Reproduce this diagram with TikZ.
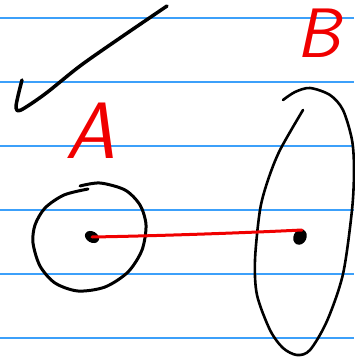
\documentclass[tikz,border=0pt]{standalone}
\usepackage{tikz}
\usetikzlibrary{arrows.meta, positioning, calc, shapes.geometric}
\definecolor{ruleblue}{RGB}{60,160,250}
\definecolor{penred}{RGB}{240,0,0}

\begin{document}
\begin{tikzpicture}[x=1pt, y=-1pt,
    pen/.style={line width=3pt, line cap=round, line join=round},
    dotnode/.style={ellipse, fill=black, inner sep=0pt},
    letter/.style={text=penred, inner sep=0pt,
      font=\fontsize{80}{80}\selectfont\sffamily\slshape}]
  \useasboundingbox[fill=white] (0,0) rectangle (354,362);
  % Ruled lines
  \foreach \y in {18,82,146,210,274,338}
    \draw[ruleblue, line width=1.4pt] (0,\y) -- (354,\y);
  % Check mark
  \draw[pen, line width=3.5pt] plot[smooth] coordinates {(22,80) (18,96) (16,108) (21,110) (45,94) (80,66) (120,38) (167,6)};
  % Labels
  \node[letter] (labelA) at (90,131) {A};
  \node[letter, font=\fontsize{70}{70}\selectfont\sffamily\slshape] (labelB) at (318,33) {B};
  % Circle round A
  \draw[pen] plot[smooth] coordinates {(88,189) (64,195) (45,208) (35,225) (33,243) (40,266) (55,283) (78,291) (105,287) (128,272) (142,250) (146,225) (140,205) (125,190) (100,183) (80,186)};
  % Long ellipse round B
  \draw[pen, line width=2.6pt] plot[smooth] coordinates {(303,110) (280,150) (268,180) (260,210) (255,260) (257,295) (270,330) (283,348) (297,355) (310,350) (327,321) (343,274) (352,210) (354,170) (352,140) (343,110) (330,95) (310,88) (295,92) (283,100)};
  % Centres
  \node[dotnode, minimum width=15pt, minimum height=11pt, rotate=-30] (dotA) at (92,237) {};
  \node[dotnode, minimum width=13pt, minimum height=16pt, rotate=-25] (dotB) at (300,237) {};
  % Distance
  \draw[penred, pen] (dotA.center) .. controls +(60,-1) and +(-60,3) .. ($(dotB.center)+(2,-7)$);
\end{tikzpicture}
\end{document}
